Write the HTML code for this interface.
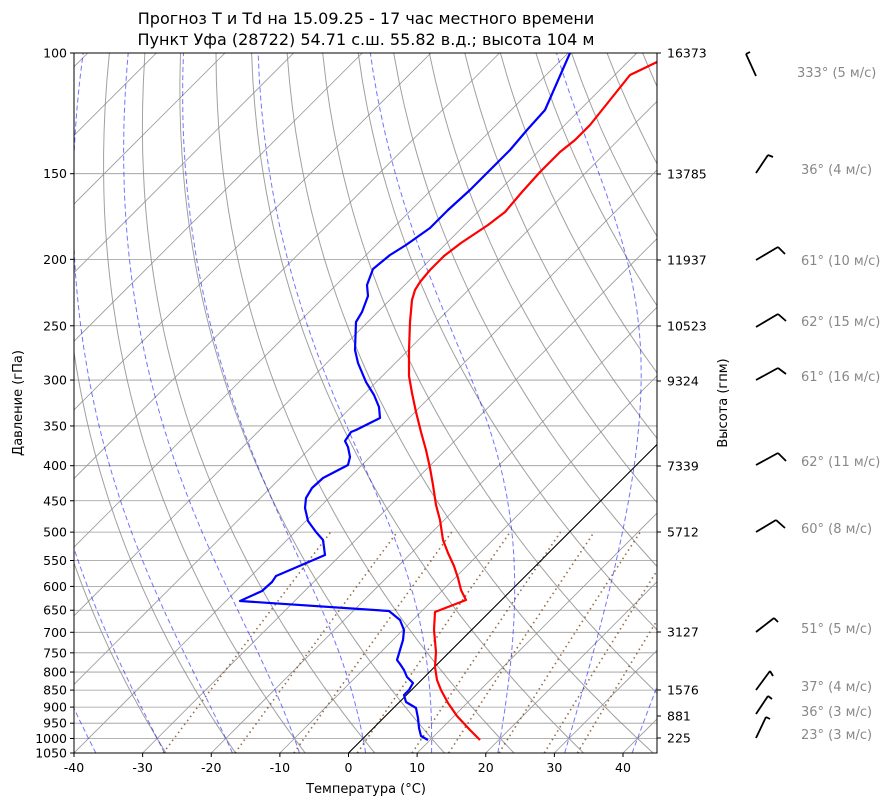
<!DOCTYPE html>
<html><head><meta charset="utf-8"><style>
body{margin:0;background:#fff;width:896px;height:806px;overflow:hidden}
svg text{font-family:"DejaVu Sans","Liberation Sans",sans-serif}
</style></head><body>
<svg id="s" width="896" height="806" xmlns="http://www.w3.org/2000/svg">
<defs><clipPath id="c"><rect x="74" y="53" width="583" height="700"/></clipPath></defs>
<g id="grid" clip-path="url(#c)"></g>
<g id="data" clip-path="url(#c)" fill="none" stroke-width="2.2" stroke-linejoin="round">
<polyline stroke="#f00" points="480,740 470,730 457,716 448,703 441,690 437,680 435,667 436,652 434,630 435,612 466,600 461,590 458,578 454,566 448,553 443,540 440,520 436,505 433,485 430,468 426,450 421,432 416,412 412,393 409,376 409,350 410,322 412,300 415,290 420,282 430,270 444,256 461,243 488,225 505,212 522,192 540,172 560,152 575,140 590,125 610,100 630,75 657,62"/>
<polyline stroke="#00f" points="428,740 421,736 419,728 418,718 416,708 406,702 404,695 409,690 413,683 407,677 404,670 400,664 397,660 400,650 403,640 404,630 400,620 389,611 240,601 262,591 272,582 276,576 325,555 323,540 316,532 308,521 305,508 306,498 312,488 323,478 348,465 350,457 348,447 345,441 351,432 356,430 380,418 379,407 374,395 366,382 358,363 355,350 356,322 362,312 368,296 367,285 373,269 390,255 406,245 430,228 448,210 470,190 490,170 510,150 527,130 545,110 570,53"/>
</g>
<rect x="74" y="53" width="583" height="700" fill="none" stroke="#000" stroke-width="1"/>
<g id="ax" font-size="12.5" fill="#000"></g>
<text x="366" y="24" font-size="16" text-anchor="middle">Прогноз T и Td на 15.09.25 - 17 час местного времени</text>
<text x="366" y="45" font-size="16" text-anchor="middle">Пункт Уфа (28722) 54.71 с.ш. 55.82 в.д.; высота 104 м</text>
<text x="366" y="793" font-size="13" text-anchor="middle">Температура (°C)</text>
<text transform="translate(22,403) rotate(-90)" font-size="13" text-anchor="middle">Давление (гПа)</text>
<text transform="translate(727,403) rotate(-90)" font-size="13" text-anchor="middle">Высота (гпм)</text>
<g id="wind" stroke="#000" stroke-width="1.8" fill="none"></g>
<g font-size="13" fill="#888">
<text x="797" y="77">333° (5 м/с)</text>
<text x="801" y="174">36° (4 м/с)</text>
<text x="801" y="265">61° (10 м/с)</text>
<text x="801" y="326">62° (15 м/с)</text>
<text x="801" y="381">61° (16 м/с)</text>
<text x="801" y="466">62° (11 м/с)</text>
<text x="801" y="533">60° (8 м/с)</text>
<text x="801" y="633">51° (5 м/с)</text>
<text x="801" y="691">37° (4 м/с)</text>
<text x="801" y="716">36° (3 м/с)</text>
<text x="801" y="739">23° (3 м/с)</text>
</g>
</svg>
<script>
var NS="http://www.w3.org/2000/svg";
function el(p,t,a){var e=document.createElementNS(NS,t);for(var k in a)e.setAttribute(k,a[k]);p.appendChild(e);return e;}
function Y(p){return 53+Math.log(p/100)/Math.log(10.5)*700;}
function X(T,p){return 348.5+6.8625*T+(753-Y(p));}
var g=document.getElementById('grid'),ax=document.getElementById('ax');
var P=[100,150,200,250,300,350,400,450,500,550,600,650,700,750,800,850,900,950,1000,1050];
P.forEach(function(p){var y=Y(p);el(g,'line',{x1:74,x2:657,y1:y,y2:y,stroke:'#999','stroke-width':0.8});
 el(ax,'line',{x1:70,x2:74,y1:y,y2:y,stroke:'#000'});var t=el(ax,'text',{x:67,y:y+4.5,'text-anchor':'end'});t.textContent=p;});
for(var T=-150;T<=50;T+=10){el(g,'line',{x1:X(T,1050),y1:753,x2:X(T,1050)+800,y2:-47,stroke:'#999','stroke-width':0.8});}
for(var T=-40;T<=40;T+=10){var x=348.5+6.8625*T;el(ax,'line',{x1:x,x2:x,y1:753,y2:757,stroke:'#000'});var t=el(ax,'text',{x:x,y:772,'text-anchor':'middle'});t.textContent=T;}
var H=[[53,16373],[174,13785],[260,11937],[326,10523],[381,9324],[466,7339],[532,5712],[632,3127],[690,1576],[716,881],[738,225]];
H.forEach(function(h){el(ax,'line',{x1:657,x2:661,y1:h[0],y2:h[0],stroke:'#000'});var t=el(ax,'text',{x:667,y:h[0]+4.5});t.textContent=h[1];});
function pl(pts,a){a.points=pts.map(function(q){return q[0].toFixed(1)+','+q[1].toFixed(1)}).join(' ');a.fill='none';el(g,'polyline',a);}
for(var th=-30;th<=200;th+=10){var pts=[];for(var p=1050;p>=100;p-=10){var T=(th+273.15)*Math.pow(p/1000,0.2857)-273.15;pts.push([X(T,p),Y(p)]);}pl(pts,{stroke:'#888','stroke-width':1,opacity:0.8});}
function es(T){return 6.112*Math.exp(17.67*T/(T+243.5));}
function dTdp(T,p){var Tk=T+273.15,e=es(T),rs=0.622*e/(p-e),Rd=287.04,Lv=2.501e6,Cp=1005.7;
 return (Rd*Tk+Lv*rs)/(Cp+Lv*Lv*rs*0.622/(Rd*Tk*Tk))/p;}
var m0=[-40,-30,-20,-10,0,10,20,30,40,50];
m0.forEach(function(t0){var pts=[];[1,-1].forEach(function(dir){var T=t0,p=1000,arr=[[X(T,p),Y(p)]];
 var end=dir>0?1050:100;while(dir>0?p<end:p>end){var dp=dir*2;T+=dTdp(T,p)*dp;p+=dp;arr.push([X(T,p),Y(p)]);}
 if(dir>0)pts=arr.reverse();else pts=pts.concat(arr.slice(1));});
 pl(pts,{stroke:'#00f','stroke-width':1,opacity:0.55,'stroke-dasharray':'5,3'});});
[0.0004,0.001,0.002,0.004,0.007,0.01,0.016,0.024,0.032].forEach(function(w){var pts=[];for(var p=1050;p>=500;p-=10){var e=p*w/(0.622+w),l=Math.log(e/6.112),Td=243.5*l/(17.67-l);pts.push([X(Td,p),Y(p)]);}
 pl(pts,{stroke:'#7a4a20','stroke-width':1.6,opacity:0.8,'stroke-dasharray':'1.5,3.5'});});
el(g,'line',{x1:348.5,y1:753,x2:848.5,y2:253,stroke:'#000','stroke-width':1.1});
var w=document.getElementById('wind');
var B=[[746,54,756,76,746,54,750,52],[756,173,768,155,768,155,773,157],[756,260,778,247,778,247,785,254],[756,327,778,314,778,314,786,321],[756,380,778,368,778,368,786,374],[756,465,778,453,778,453,786,461],[756,532,776,520,776,520,785,528],[756,632,774,618,774,618,778,622],[756,690,770,671,770,671,773,676],[756,714,768,696,768,696,772,699],[756,738,766,717,766,717,770,719]];
B.forEach(function(b){el(w,'line',{x1:b[0],y1:b[1],x2:b[2],y2:b[3]});el(w,'line',{x1:b[4],y1:b[5],x2:b[6],y2:b[7]});});
</script>
</body></html>
